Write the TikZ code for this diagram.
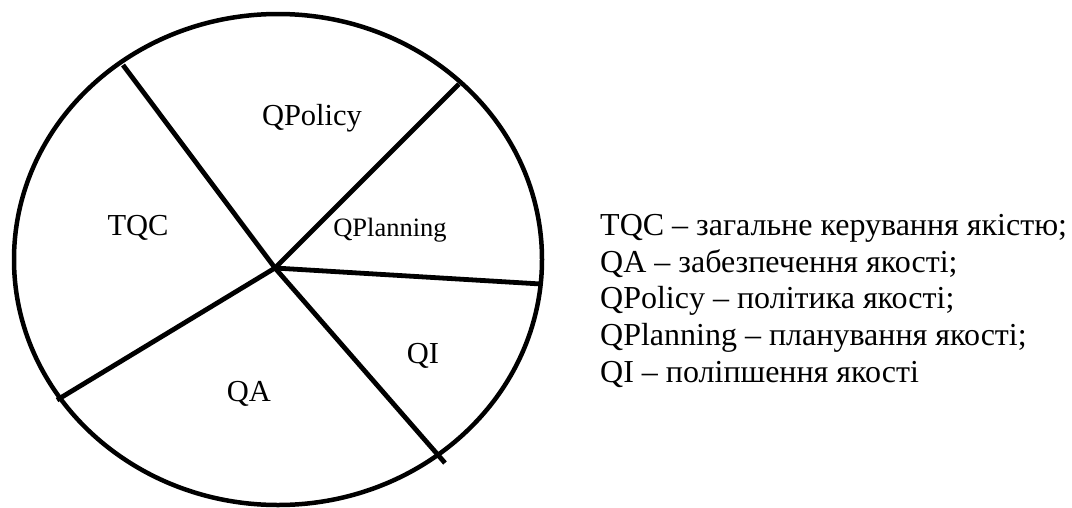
\documentclass[tikz,border=0pt]{standalone}
\usepackage{fontspec}
\setmainfont{Liberation Serif}
\begin{document}
\begin{tikzpicture}[x=1pt,y=-1pt,
  outline/.style={line width=4.5pt},
  divider/.style={line width=4.8pt},
  seglabel/.style={font=\fontsize{30.5}{36}\selectfont, anchor=base, inner sep=0pt},
  legendline/.style={font=\fontsize{32}{37}\selectfont, anchor=base west, inner sep=0pt}]
\useasboundingbox (0,0) rectangle (1072,507);
% outer ellipse
\draw[outline] (278,259.5) ellipse [x radius=264pt, y radius=245.5pt];
% dividers
\coordinate (c) at (275,268);
\coordinate (e1) at (123,65);
\coordinate (e2) at (459,84);
\coordinate (e3) at (541,284);
\coordinate (e4) at (445,463);
\coordinate (e5) at (57,400);
\draw[divider] (c) -- (e1);
\draw[divider] (c) -- (e2);
\draw[divider] (c) -- (e3);
\draw[divider] (c) -- (e4);
\draw[divider] (c) -- (e5);
% segment labels
\node[seglabel] (qpol) at (312,125) {QPolicy};
\node[seglabel] (tqc) at (138,235) {TQC};
\node[seglabel, font=\fontsize{26.5}{32}\selectfont] (qplan) at (390,236) {QPlanning};
\node[seglabel] (qi) at (423,363) {QI};
\node[seglabel] (qa) at (249,401) {QA};
% legend
\node[legendline] (l1) at (600,235.5) {TQC – загальне керування якістю;};
\node[legendline] (l2) at (600,272.2) {QA – забезпечення якості;};
\node[legendline] (l3) at (600,308.9) {QPolicy – політика якості;};
\node[legendline] (l4) at (600,345.6) {QPlanning – планування якості;};
\node[legendline] (l5) at (600,382.3) {QI – поліпшення якості};
\end{tikzpicture}
\end{document}
